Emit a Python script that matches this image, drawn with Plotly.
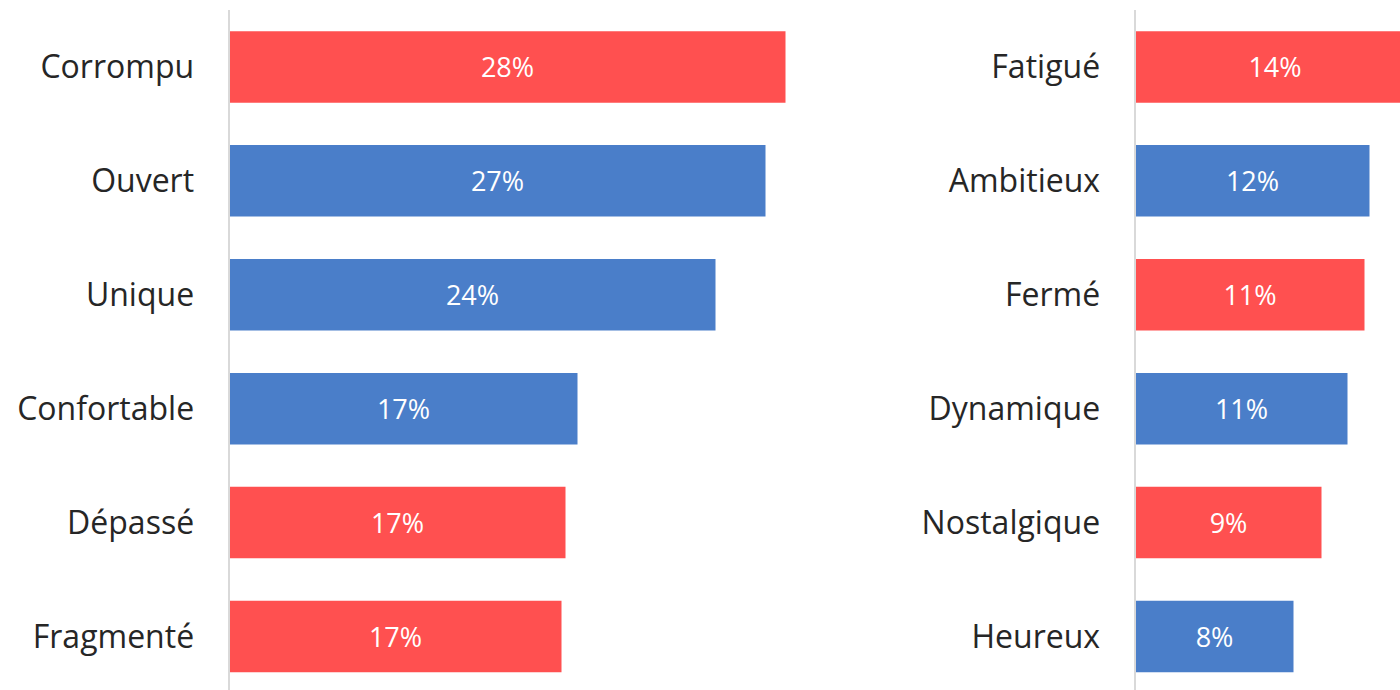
import plotly.graph_objects as go

left_cats = ["Corrompu", "Ouvert", "Unique", "Confortable", "Dépassé", "Fragmenté"]
left_vals = [27.8, 26.8, 24.3, 17.4, 16.8, 16.6]
left_colors = ["#FF5050", "#4A7EC9", "#4A7EC9", "#4A7EC9", "#FF5050", "#FF5050"]

right_cats = ["Fatigué", "Ambitieux", "Fermé", "Dynamique", "Nostalgique", "Heureux"]
right_vals = [13.95, 11.7, 11.45, 10.6, 9.3, 7.9]
right_colors = ["#FF5050", "#4A7EC9", "#FF5050", "#4A7EC9", "#FF5050", "#4A7EC9"]

W, H = 1400, 690
FONT = "Open Sans"

fig = go.Figure()

def add_panel(cats, vals, colors, xa, ya):
    fig.add_trace(go.Bar(
        x=vals, y=cats, orientation="h",
        marker=dict(color=colors, line=dict(width=0)),
        width=0.628,
        text=[f"{v:.0f}%" for v in vals],
        textposition="inside", insidetextanchor="middle",
        textfont=dict(family=FONT, size=27, color="white"),
        xaxis=xa, yaxis=ya, showlegend=False, hoverinfo="skip",
        cliponaxis=True,
    ))

add_panel(left_cats, left_vals, left_colors, "x", "y")
add_panel(right_cats, right_vals, right_colors, "x2", "y2")

px_per_unit = 20.0
l0 = 229.5 / W
r0 = 1135.5 / W

xcommon = dict(visible=False, showgrid=False, zeroline=False, fixedrange=True)
ycommon = dict(
    showgrid=False, zeroline=False, showline=True, linecolor="#D9D9D9", linewidth=2,
    ticks="", ticklabelstandoff=27, automargin=False,
    tickfont=dict(family=FONT, size=32, color="#262626"),
    range=[5.47, -0.5], autorange=False, type="category", fixedrange=True,
)

fig.update_layout(
    width=W, height=H,
    margin=dict(l=0, r=0, t=10, b=0),
    paper_bgcolor="white", plot_bgcolor="white",
    xaxis=dict(domain=[l0, l0 + 30 * px_per_unit / W], range=[0, 30], **xcommon),
    xaxis2=dict(domain=[r0, 1.0], range=[0, (W - r0 * W) / px_per_unit], **xcommon),
    yaxis=dict(anchor="x", categoryorder="array", categoryarray=left_cats, **ycommon),
    yaxis2=dict(anchor="x2", categoryorder="array", categoryarray=right_cats, **ycommon),
    bargap=0.372,
    hovermode=False,
    uniformtext=dict(mode=False),
)

fig.write_html(
    "out.html",
    config={"displayModeBar": False},
    post_script="document.body.style.margin='0'; document.body.style.overflow='hidden'; document.documentElement.style.overflow='hidden';",
)
